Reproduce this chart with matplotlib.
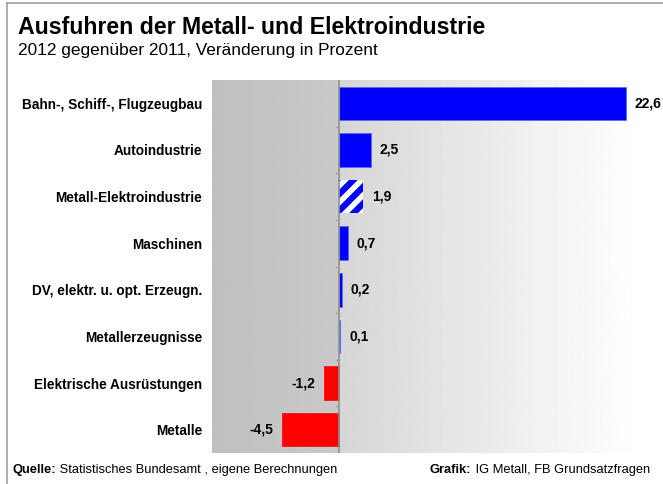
import numpy as np
import matplotlib.pyplot as plt
import matplotlib.lines as mlines

plt.rcParams['font.family'] = ['Liberation Sans', 'DejaVu Sans']
plt.rcParams['hatch.linewidth'] = 4.5

# Daten
kategorien = ["Bahn-, Schiff-, Flugzeugbau", "Autoindustrie", "Metall-Elektroindustrie",
              "Maschinen", "DV, elektr. u. opt. Erzeugn.", "Metallerzeugnisse",
              "Elektrische Ausrüstungen", "Metalle"]
werte = [22.6, 2.5, 1.9, 0.7, 0.2, 0.1, -1.2, -4.5]
labels = ["22,6", "2,5", "1,9", "0,7", "0,2", "0,1", "-1,2", "-4,5"]

W, H = 663, 484
fig = plt.figure(figsize=(W / 100, H / 100), dpi=100)

# Rahmen
fig.add_artist(mlines.Line2D([7 / W, 7 / W], [0, 1 - 3 / H], color='#a0a0a0', lw=1.2))
fig.add_artist(mlines.Line2D([7 / W, 1], [1 - 3 / H, 1 - 3 / H], color='#a0a0a0', lw=1.2))

fig.text(18 / W, 1 - 28 / H, "Ausfuhren der Metall- und Elektroindustrie",
         fontsize=16.7, fontweight='bold', va='center')
fig.text(18 / W, 1 - 50 / H, "2012 gegenüber 2011, Veränderung in Prozent",
         fontsize=12.4, va='center')

ax = fig.add_axes([212 / W, 1 - 453 / H, (640 - 212) / W, (453 - 80) / H])
xmin, xmax = -10, 23.7
n = len(kategorien)

# Hintergrund: links grau, rechts Verlauf nach weiss
links = np.linspace(0.75, 0.79, 50).reshape(1, -1)
ax.imshow(links, extent=[xmin, 0, n - 0.5, -0.5], cmap='gray', vmin=0, vmax=1,
          aspect='auto', zorder=0)
rechts = np.linspace(0.84, 1.0, 200).reshape(1, -1)
ax.imshow(rechts, extent=[0, xmax, n - 0.5, -0.5], cmap='gray', vmin=0, vmax=1,
          aspect='auto', zorder=0)
ax.set_xlim(xmin, xmax)
ax.set_ylim(n - 0.5, -0.5)

y = np.arange(n)
for i, (v, lab) in enumerate(zip(werte, labels)):
    if v < 0:
        ax.barh(i, v, height=0.72, color='#ff0000', edgecolor='#ff0000', lw=0.5, zorder=2)
        ax.text(v - 0.7, i, lab, ha='right', va='center', fontsize=10, fontweight='bold')
    elif kategorien[i] == "Metall-Elektroindustrie":
        ax.barh(i, v, height=0.72, color='white', edgecolor='#0000ff', hatch='//',
                lw=0, zorder=2)
        ax.text(v + 0.7, i, lab, ha='left', va='center', fontsize=10, fontweight='bold')
    else:
        ax.barh(i, v, height=0.72, color='#0000ff', edgecolor='#6060ff', lw=0.5, zorder=2)
        ax.text(v + 0.7, i, lab, ha='left', va='center', fontsize=10, fontweight='bold')

ax.axvline(0, color='#909090', lw=1.2, zorder=3)
for b in np.arange(0.5, n - 1, 1.0):
    ax.plot([-0.25, 0], [b, b], color='#a0a0a0', lw=1, zorder=3)

ax.set_yticks(y)
ax.set_yticklabels(kategorien, fontsize=9.8, fontweight='bold')
ax.tick_params(axis='y', length=0, pad=7)
ax.set_xticks([])
for s in ax.spines.values():
    s.set_visible(False)

# Fusszeile
renderer = fig.canvas.get_renderer()
def fuss(x, fett, rest):
    t = fig.text(x / W, 1 - 470 / H, fett, fontsize=9.3, fontweight='bold', va='center')
    bb = t.get_window_extent(renderer)
    fig.text(bb.x1 / W, 1 - 470 / H, " " + rest, fontsize=9.3, va='center')

fuss(12, "Quelle:", "Statistisches Bundesamt , eigene Berechnungen")
fuss(430, "Grafik:", "IG Metall, FB Grundsatzfragen")

fig.savefig("out.png", dpi=100)
